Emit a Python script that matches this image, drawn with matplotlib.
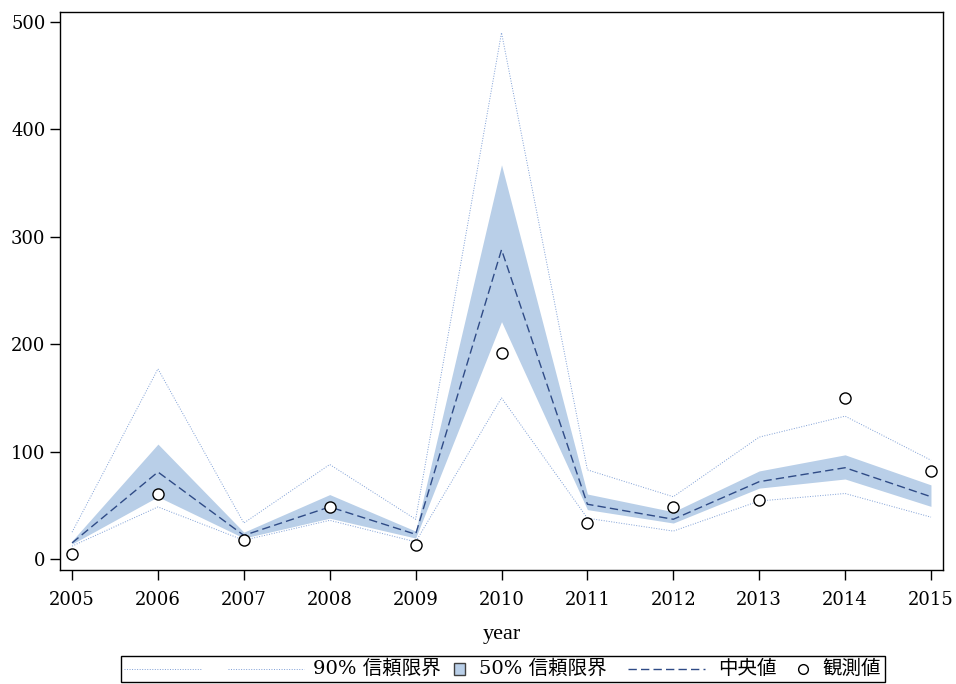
import numpy as np
import matplotlib.pyplot as plt
from matplotlib.patches import Rectangle
from matplotlib.lines import Line2D
from matplotlib.offsetbox import DrawingArea, TextArea, HPacker, AnchoredOffsetbox

plt.rcParams['font.family'] = ['DejaVu Serif', 'Noto Sans CJK JP']

years = [2005, 2006, 2007, 2008, 2009, 2010, 2011, 2012, 2013, 2014, 2015]
observed = [5, 60.5, 17.5, 48.5, 13, 192, 33.5, 48.5, 55, 150, 82]
median = [15, 81, 22, 48.5, 23, 288, 51, 37, 72, 85, 58]
ci50_lo = [14, 58, 19.5, 38, 19.5, 221, 46, 33.5, 66, 74.5, 49]
ci50_hi = [17, 107, 25, 60, 26, 367, 60.5, 44, 82, 97, 69]
ci90_lo = [12, 48.5, 17.5, 36, 16, 150, 38, 26, 54, 61, 39]
ci90_hi = [25, 177, 33.5, 88, 37, 490, 83, 58, 113.5, 133, 92]

dot_col = '#7f9fd6'
fill_col = '#b9cfe8'
dash_col = '#2f4b86'
dot_ls = (0, (1, 1.6))
dash_ls = (0, (6, 3))

fig = plt.figure(figsize=(9.56, 6.84), dpi=100)
ax = fig.add_axes([0.0628, 0.1667, 0.9236, 0.8158])

ax.fill_between(years, ci50_lo, ci50_hi, color=fill_col, lw=0)
ax.plot(years, ci90_hi, color=dot_col, lw=0.7, ls=dot_ls)
ax.plot(years, ci90_lo, color=dot_col, lw=0.7, ls=dot_ls)
ax.plot(years, median, color=dash_col, lw=1.0, ls=dash_ls)
ax.plot(years, observed, 'o', ms=8, mfc='white', mec='black', mew=1.0)

ax.set_xlim(2004.86, 2015.14)
ax.set_ylim(-10.2, 509.3)
ax.set_xticks(years)
ax.set_yticks([0, 100, 200, 300, 400, 500])
ax.tick_params(direction='out', length=7, width=1, labelsize=13, colors='black')
ax.tick_params(axis='x', pad=8)
for s in ax.spines.values():
    s.set_linewidth(1)
ax.set_xlabel('year', fontsize=16, labelpad=12, family='Liberation Serif')


# legend strip built piece by piece so each key can have its own width
def gap(w):
    return DrawingArea(w, 12)


def line_key(w, **kw):
    da = DrawingArea(w, 12)
    da.add_artist(Line2D([0, w], [6, 6], **kw))
    return da


def patch_key():
    da = DrawingArea(7.5, 12)
    da.add_artist(Rectangle((0, 1.5), 7.5, 9, facecolor=fill_col,
                            edgecolor='#404040', lw=1))
    return da


def circle_key():
    da = DrawingArea(7.5, 12)
    da.add_artist(Line2D([3.75], [6], ls='none', marker='o', ms=7,
                         mfc='white', mec='black', mew=1))
    return da


def label(s):
    return TextArea(s, textprops=dict(fontsize=14, color='black'))


items = [
    line_key(56, color=dot_col, lw=0.7, ls=dot_ls), gap(18.5),
    line_key(55, color=dot_col, lw=0.7, ls=dot_ls), gap(6.5),
    label('90% 信頼限界'), gap(9.5),
    patch_key(), gap(10.5),
    label('50% 信頼限界'), gap(15.5),
    line_key(55, color=dash_col, lw=1.0, ls=dash_ls), gap(9.5),
    label('中央値'), gap(15.5),
    circle_key(), gap(10.5),
    label('観測値'),
]
row = HPacker(children=items, sep=0, pad=0, align='center')
box = AnchoredOffsetbox(loc='center', child=row, pad=0.25, borderpad=0,
                        frameon=True, bbox_to_anchor=(0.526, 0.022),
                        bbox_transform=fig.transFigure)
box.patch.set_edgecolor('black')
box.patch.set_linewidth(1)
fig.add_artist(box)

fig.savefig('out.png', dpi=100)
